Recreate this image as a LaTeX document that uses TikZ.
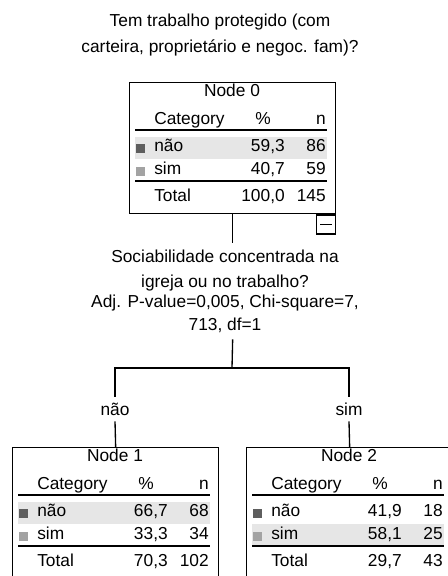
\documentclass[tikz,border=0pt]{standalone}
\usepackage{fontspec}
\setmainfont{Liberation Sans}
\definecolor{rowshade}{HTML}{E6E6E6}
\definecolor{markA}{HTML}{5E5E5E}
\definecolor{markB}{HTML}{A3A3A3}
\tikzset{
  treebox/.style={draw, line width=1pt, anchor=north west, minimum width=154.5pt, minimum height=98.25pt, inner sep=0pt},
  txt/.style={inner sep=0pt, font=\fontsize{13pt}{18.75pt}\selectfont},
  tabrule/.style={line width=1.1pt},
  conn/.style={line width=1pt},
  branchlab/.style={txt, minimum height=18pt, anchor=center},
}
\newcommand\spsstable[9]{%
  \node[treebox] (#1) at (0,0) {};
  \ifnum#2=1 \fill[rowshade] (6,54.5) rectangle (198,77);\else \fill[rowshade] (6,77) rectangle (198,98);\fi
  \node[txt, anchor=mid] (#1-title) at (103,11) {#3};
  \node[txt, anchor=mid west] (#1-cat) at (25,39) {Category};
  \node[txt, anchor=mid] (#1-pct) at (134,39) {\%};
  \node[txt, anchor=mid east] (#1-n) at (197,39) {n};
  \draw[tabrule] (6,48) -- (198,48);
  \fill[markA] (7,61.5) rectangle (16,70.5);
  \node[txt, anchor=mid west] (#1-a) at (25,66) {não};
  \node[txt, anchor=mid east] (#1-ap) at (156,66) {#4};
  \node[txt, anchor=mid east] (#1-an) at (197,66) {#5};
  \fill[markB] (7,84.5) rectangle (16,93.5);
  \node[txt, anchor=mid west] (#1-b) at (25,89) {sim};
  \node[txt, anchor=mid east] (#1-bp) at (156,89) {#6};
  \node[txt, anchor=mid east] (#1-bn) at (197,89) {#7};
  \draw[tabrule] (6,99) -- (198,99);
  \node[txt, anchor=mid west] (#1-t) at (25,116) {Total};
  \node[txt, anchor=mid east] (#1-tp) at (156,116) {#8};
  \node[txt, anchor=mid east] (#1-tn) at (197,116) {#9};
}
\begin{document}
\begin{tikzpicture}[x=0.75pt,y=-0.75pt]
\useasboundingbox (0,0) rectangle (448,576);
\clip (0,0) rectangle (448,576);
\fill[white] (0,0) rectangle (448,576);

\node[txt, align=center] (title) at (220,35) {Tem trabalho protegido (com\\[0.75pt]carteira, proprietário e negoc. fam)?};

\begin{scope}[shift={(129,82)}]
  \spsstable{n0}{1}{Node 0}{59,3}{86}{40,7}{59}{100,0}{145}
\end{scope}
\node[draw, line width=1pt, minimum size=14.25pt, inner sep=0pt, anchor=north east] (n0-minus) at (n0.south east) {};
\draw[line width=1pt] ([xshift=3pt]n0-minus.west) -- ([xshift=-3pt]n0-minus.east);

\begin{scope}[shift={(12,447)}]
  \spsstable{n1}{1}{Node 1}{66,7}{68}{33,3}{34}{70,3}{102}
\end{scope}
\begin{scope}[shift={(246,447)}]
  \spsstable{n2}{2}{Node 2}{41,9}{18}{58,1}{25}{29,7}{43}
\end{scope}

\node[txt, align=center, inner ysep=5pt] (q) at (225,291) {Sociabilidade concentrada na\\igreja ou no trabalho?\\[-3.75pt]Adj. P-value=0,005, Chi-square=7,\\[-1.5pt]713, df=1};

\node[branchlab] (lab1) at (115,409) {não};
\node[branchlab] (lab2) at (349,409) {sim};
\coordinate (j) at (232,368);

\draw[conn] (n0.south) -- (n0.south |- q.north);
\draw[conn] (q.south -| n0.south) -- (j);
\draw[conn] (j) -| (lab1.north);
\draw[conn] (j) -| (lab2.north);
\draw[conn] (lab1.south) -- (n1.north);
\draw[conn] (lab2.south) -- (n2.north);
\end{tikzpicture}
\end{document}
